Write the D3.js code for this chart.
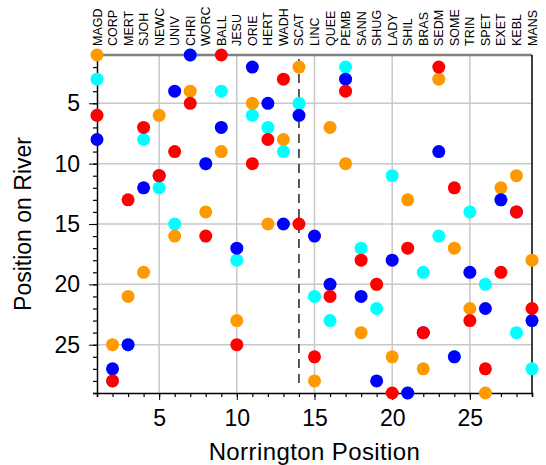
<!DOCTYPE html>
<html>
<head>
<meta charset="utf-8">
<script src="https://cdn.jsdelivr.net/npm/d3@7"></script>
<style>
  body { margin: 0; background: #fff; }
  svg { font-family: "Liberation Sans", Arial, sans-serif; }
</style>
</head>
<body>
<div id="chart"></div>
<script>
const colleges = ["MAGD","CORP","MERT","SJOH","NEWC","UNIV","CHRI","WORC","BALL","JESU","ORIE","HERT","WADH","SCAT","LINC","QUEE","PEMB","SANN","SHUG","LADY","SHIL","BRAS","SEDM","SOME","TRIN","SPET","EXET","KEBL","MANS"];
const cyanPos   = [3,28,25,8,12,15,1,10,4,18,6,7,9,5,21,23,2,17,22,11,29,19,16,26,14,20,13,24,27];
const orangePos = [1,25,21,19,6,16,4,14,9,23,5,15,8,2,28,7,10,24,20,26,13,27,3,17,22,29,12,11,18];
const bluePos   = [8,27,25,12,11,4,1,10,7,17,2,5,15,6,16,20,3,21,28,18,29,24,9,26,19,22,13,14,23];
const redPos    = [6,28,13,7,11,9,5,16,1,25,10,8,3,15,26,21,4,18,20,29,17,24,2,12,23,27,19,14,22];
const majorTicks = [5, 10, 15, 20, 25];
const cutoff = 14;

const width = 546, height = 465;
const plotL = 97, plotR = 532, plotT = 55, plotB = 393;

const svg = d3.select("#chart").append("svg")
    .attr("width", width)
    .attr("height", height);

const x = d3.scaleLinear().domain([1, 29]).range([plotL, plotR]);
const y = d3.scaleLinear().domain([1, 29]).range([plotT, plotB]);

// grid
svg.append("g").selectAll("line")
    .data(majorTicks).enter().append("line")
    .attr("x1", d => x(d)).attr("x2", d => x(d))
    .attr("y1", plotT).attr("y2", plotB)
    .attr("stroke", "#c8c8c8").attr("stroke-width", 1.5);
svg.append("g").selectAll("line")
    .data(majorTicks).enter().append("line")
    .attr("x1", plotL).attr("x2", plotR)
    .attr("y1", d => y(d)).attr("y2", d => y(d))
    .attr("stroke", "#c8c8c8").attr("stroke-width", 1.5);

// dashed cutoff line
svg.append("line")
    .attr("x1", x(cutoff)).attr("x2", x(cutoff))
    .attr("y1", plotT + 4).attr("y2", plotB - 4)
    .attr("stroke", "#222").attr("stroke-width", 1.5)
    .attr("stroke-dasharray", "9,6");

// frame
svg.append("line").attr("x1", plotL).attr("x2", plotR).attr("y1", plotT).attr("y2", plotT)
    .attr("stroke", "#808080").attr("stroke-width", 2.5);
svg.append("line").attr("x1", plotR).attr("x2", plotR).attr("y1", plotT).attr("y2", plotB)
    .attr("stroke", "#000").attr("stroke-width", 1.5);

// axes
const minor = d3.range(1, 30);
const xAxis = svg.append("g").attr("transform", `translate(0,${plotB})`)
    .call(d3.axisBottom(x).tickValues(minor).tickSize(4).tickFormat(""));
xAxis.selectAll(".tick line").attr("stroke-width", 1.2);
xAxis.select(".domain").attr("stroke-width", 1.5);
svg.append("g").attr("transform", `translate(0,${plotB})`)
    .call(d3.axisBottom(x).tickValues(majorTicks).tickSize(7).tickPadding(10))
    .call(g => g.select(".domain").remove())
    .call(g => g.selectAll("text").attr("font-size", 23).attr("fill", "#000")
        .attr("font-family", "Liberation Sans, Arial, sans-serif"));

const yAxis = svg.append("g").attr("transform", `translate(${plotL},0)`)
    .call(d3.axisLeft(y).tickValues(minor).tickSize(4).tickFormat(""));
yAxis.selectAll(".tick line").attr("stroke-width", 1.2);
yAxis.select(".domain").attr("stroke-width", 1.5);
svg.append("g").attr("transform", `translate(${plotL},0)`)
    .call(d3.axisLeft(y).tickValues(majorTicks).tickSize(8).tickPadding(9))
    .call(g => g.select(".domain").remove())
    .call(g => g.selectAll("text").attr("font-size", 23).attr("fill", "#000")
        .attr("font-family", "Liberation Sans, Arial, sans-serif"));

// college labels on top
svg.append("g").selectAll("text")
    .data(colleges).enter().append("text")
    .attr("transform", (d, i) => `translate(${x(i + 1) + 4.5},46) rotate(-90)`)
    .attr("font-size", 12.5)
    .attr("fill", "#000")
    .text(d => d);

// axis titles
svg.append("text")
    .attr("x", (plotL + plotR) / 2).attr("y", 460)
    .attr("text-anchor", "middle")
    .attr("font-size", 24)
    .attr("letter-spacing", 0.4)
    .text("Norrington Position");
svg.append("text")
    .attr("transform", `translate(31,${(plotT + plotB) / 2}) rotate(-90)`)
    .attr("text-anchor", "middle")
    .attr("font-size", 23)
    .text("Position on River");

// points
const series = [
    { color: "#00ffff", values: cyanPos },
    { color: "#ff9900", values: orangePos },
    { color: "#0000ff", values: bluePos },
    { color: "#ff0000", values: redPos }
];
series.forEach(s => {
    svg.append("g").selectAll("circle")
        .data(s.values).enter().append("circle")
        .attr("cx", (d, i) => x(i + 1))
        .attr("cy", d => y(d))
        .attr("r", 6.5)
        .attr("fill", s.color);
});
</script>
</body>
</html>
